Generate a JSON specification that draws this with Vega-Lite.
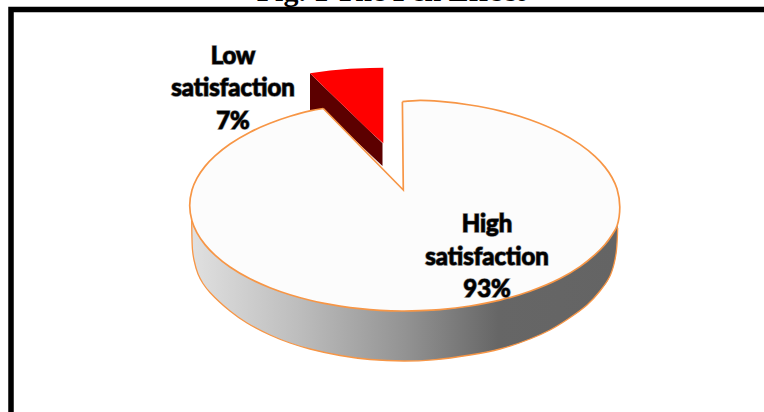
{
  "$schema": "https://vega.github.io/schema/vega-lite/v6.json",
  "width": 764,
  "height": 412,
  "padding": 0,
  "autosize": {"type": "none"},
  "background": "#ffffff",
  "config": {"view": {"stroke": null}},
  "datasets": {
    "frame": [
      {"seq": 1, "x": 11, "y": 420},
      {"seq": 2, "x": 11, "y": 9.5},
      {"seq": 3, "x": 770, "y": 9.5}
    ],
    "wall": [
      {"x": 191.7, "y": 218, "y2": 235},
      {"x": 192.5, "y": 221, "y2": 250},
      {"x": 194, "y": 226, "y2": 260},
      {"x": 198, "y": 234, "y2": 274},
      {"x": 203, "y": 242, "y2": 283.5},
      {"x": 210, "y": 250, "y2": 292.5},
      {"x": 230, "y": 267, "y2": 311},
      {"x": 247, "y": 277, "y2": 323},
      {"x": 270, "y": 287.7, "y2": 335},
      {"x": 290, "y": 294.7, "y2": 343},
      {"x": 310, "y": 300.2, "y2": 349},
      {"x": 340, "y": 306.1, "y2": 355.5},
      {"x": 370, "y": 309.6, "y2": 359.5},
      {"x": 404, "y": 311, "y2": 361},
      {"x": 433, "y": 310.2, "y2": 359.8},
      {"x": 470, "y": 306, "y2": 355},
      {"x": 500, "y": 300.1, "y2": 349},
      {"x": 530, "y": 291.2, "y2": 339},
      {"x": 550, "y": 283, "y2": 330},
      {"x": 568, "y": 274, "y2": 319},
      {"x": 587, "y": 261, "y2": 305},
      {"x": 600, "y": 249, "y2": 291},
      {"x": 610, "y": 238, "y2": 276},
      {"x": 614, "y": 232, "y2": 264},
      {"x": 616.5, "y": 227, "y2": 250},
      {"x": 617.7, "y": 222, "y2": 228}
    ],
    "wallEdge": [
      {"seq": 1, "x": 191.7, "y": 220},
      {"seq": 2, "x": 191.9, "y": 235},
      {"seq": 3, "x": 192.5, "y": 250},
      {"seq": 4, "x": 194, "y": 260},
      {"seq": 5, "x": 198, "y": 274},
      {"seq": 6, "x": 203, "y": 283.5},
      {"seq": 7, "x": 210, "y": 292.5},
      {"seq": 8, "x": 230, "y": 311},
      {"seq": 9, "x": 247, "y": 323},
      {"seq": 10, "x": 270, "y": 335},
      {"seq": 11, "x": 290, "y": 343},
      {"seq": 12, "x": 310, "y": 349},
      {"seq": 13, "x": 340, "y": 355.5},
      {"seq": 14, "x": 370, "y": 359.5},
      {"seq": 15, "x": 404, "y": 361},
      {"seq": 16, "x": 433, "y": 359.8},
      {"seq": 17, "x": 470, "y": 355},
      {"seq": 18, "x": 500, "y": 349},
      {"seq": 19, "x": 530, "y": 339},
      {"seq": 20, "x": 550, "y": 330},
      {"seq": 21, "x": 568, "y": 319},
      {"seq": 22, "x": 587, "y": 305},
      {"seq": 23, "x": 600, "y": 291},
      {"seq": 24, "x": 610, "y": 276},
      {"seq": 25, "x": 614, "y": 264},
      {"seq": 26, "x": 616.5, "y": 250},
      {"seq": 27, "x": 617.7, "y": 228}
    ],
    "sliceSide": [
      {"x": 310, "y": 73.3, "y2": 111},
      {"x": 323, "y": 86, "y2": 110},
      {"x": 382.5, "y": 143.3, "y2": 166}
    ],
    "sliceTop": [
      {"x": 310, "y": 73.3, "y2": 73.3},
      {"x": 330, "y": 70.5, "y2": 92.7},
      {"x": 350, "y": 68.8, "y2": 112},
      {"x": 370, "y": 67.9, "y2": 131.4},
      {"x": 383.3, "y": 67.7, "y2": 143.3}
    ],
    "pieTop": [
      {"x": 189.7, "y": 205.5, "y2": 205.5},
      {"x": 192, "y": 190.1, "y2": 220.9},
      {"x": 197, "y": 178.2, "y2": 232.8},
      {"x": 205, "y": 166.4, "y2": 244.6},
      {"x": 215, "y": 155.9, "y2": 255.1},
      {"x": 230, "y": 144, "y2": 267},
      {"x": 250, "y": 132.2, "y2": 278.8},
      {"x": 270, "y": 123.3, "y2": 287.7},
      {"x": 290, "y": 116.3, "y2": 294.7},
      {"x": 310, "y": 110.8, "y2": 300.2},
      {"x": 323.3, "y": 108.5, "y2": 303.1},
      {"x": 340, "y": 125.6, "y2": 306.1},
      {"x": 360, "y": 146, "y2": 308.7},
      {"x": 380, "y": 166.5, "y2": 310.3},
      {"x": 402.9, "y": 190, "y2": 311},
      {"x": 403, "y": 101.7, "y2": 311},
      {"x": 420, "y": 100.3, "y2": 310.7},
      {"x": 440, "y": 101.4, "y2": 309.6},
      {"x": 470, "y": 105, "y2": 306},
      {"x": 500, "y": 110.9, "y2": 300.1},
      {"x": 530, "y": 119.8, "y2": 291.2},
      {"x": 560, "y": 132.5, "y2": 278.5},
      {"x": 580, "y": 144.4, "y2": 266.6},
      {"x": 595, "y": 156.4, "y2": 254.6},
      {"x": 605, "y": 167.1, "y2": 244.5},
      {"x": 612, "y": 177.5, "y2": 235},
      {"x": 617, "y": 188.8, "y2": 226},
      {"x": 619.8, "y": 207, "y2": 208}
    ],
    "pieArc": [
      {"seq": 1, "x": 402.4, "y": 101.7},
      {"seq": 2, "x": 420, "y": 100.3},
      {"seq": 3, "x": 440, "y": 101.4},
      {"seq": 4, "x": 470, "y": 105},
      {"seq": 5, "x": 500, "y": 110.9},
      {"seq": 6, "x": 530, "y": 119.8},
      {"seq": 7, "x": 560, "y": 132.5},
      {"seq": 8, "x": 580, "y": 144.4},
      {"seq": 9, "x": 595, "y": 156.4},
      {"seq": 10, "x": 605, "y": 167.1},
      {"seq": 11, "x": 612, "y": 177.5},
      {"seq": 12, "x": 617, "y": 188.8},
      {"seq": 13, "x": 619.8, "y": 207},
      {"seq": 14, "x": 617, "y": 226},
      {"seq": 15, "x": 612, "y": 235},
      {"seq": 16, "x": 605, "y": 244.5},
      {"seq": 17, "x": 595, "y": 254.6},
      {"seq": 18, "x": 580, "y": 266.6},
      {"seq": 19, "x": 560, "y": 278.5},
      {"seq": 20, "x": 530, "y": 291.2},
      {"seq": 21, "x": 500, "y": 300.1},
      {"seq": 22, "x": 470, "y": 306},
      {"seq": 23, "x": 440, "y": 309.6},
      {"seq": 24, "x": 420, "y": 310.7},
      {"seq": 25, "x": 402, "y": 311},
      {"seq": 26, "x": 380, "y": 310.3},
      {"seq": 27, "x": 360, "y": 308.7},
      {"seq": 28, "x": 340, "y": 306.1},
      {"seq": 29, "x": 323, "y": 303.1},
      {"seq": 30, "x": 310, "y": 300.2},
      {"seq": 31, "x": 290, "y": 294.7},
      {"seq": 32, "x": 270, "y": 287.7},
      {"seq": 33, "x": 250, "y": 278.8},
      {"seq": 34, "x": 230, "y": 267},
      {"seq": 35, "x": 215, "y": 255.1},
      {"seq": 36, "x": 205, "y": 244.6},
      {"seq": 37, "x": 197, "y": 232.8},
      {"seq": 38, "x": 192, "y": 220.9},
      {"seq": 39, "x": 189.7, "y": 205.5},
      {"seq": 40, "x": 192, "y": 190.1},
      {"seq": 41, "x": 197, "y": 178.2},
      {"seq": 42, "x": 205, "y": 166.4},
      {"seq": 43, "x": 215, "y": 155.9},
      {"seq": 44, "x": 230, "y": 144},
      {"seq": 45, "x": 250, "y": 132.2},
      {"seq": 46, "x": 270, "y": 123.3},
      {"seq": 47, "x": 290, "y": 116.3},
      {"seq": 48, "x": 310, "y": 110.8},
      {"seq": 49, "x": 323.3, "y": 108.5}
    ],
    "pieNotch": [
      {"seq": 1, "x": 323.3, "y": 108.5},
      {"seq": 2, "x": 403.3, "y": 190},
      {"seq": 3, "x": 402.4, "y": 101.7}
    ],
    "labels": [
      {"label": "Low\nsatisfaction\n7%", "x": 233, "y": 56.5},
      {"label": "High\nsatisfaction\n93%", "x": 487, "y": 225}
    ],
    "heading": [
      {"label": "Fig. 1 The Pen Effect", "x": 391, "y": 0.8}
    ]
  },
  "encoding": {
    "x": {"field": "x", "type": "quantitative", "axis": null, "scale": {"domain": [0, 764], "nice": false, "zero": false}},
    "y": {"field": "y", "type": "quantitative", "axis": null, "scale": {"domain": [412, 0], "nice": false, "zero": false}}
  },
  "layer": [
    {
      "data": {"name": "heading"},
      "mark": {"type": "text", "font": "Liberation Serif", "fontWeight": "bold", "fontSize": 30, "align": "center", "baseline": "alphabetic", "color": "#000000"},
      "encoding": {"text": {"field": "label"}}
    },
    {
      "data": {"name": "frame"},
      "mark": {"type": "line", "stroke": "#000000", "strokeWidth": 5.5, "strokeJoin": "miter", "clip": true},
      "encoding": {"order": {"field": "seq"}}
    },
    {
      "data": {"name": "wall"},
      "mark": {
        "type": "area",
        "interpolate": "monotone",
        "color": {
          "gradient": "linear", "x1": 0, "y1": 0, "x2": 1, "y2": 0,
          "stops": [
            {"offset": 0, "color": "#e0e0e0"},
            {"offset": 0.25, "color": "#bdbdbd"},
            {"offset": 0.5, "color": "#939393"},
            {"offset": 0.72, "color": "#666666"},
            {"offset": 1, "color": "#646464"}
          ]
        }
      },
      "encoding": {"y2": {"field": "y2"}}
    },
    {
      "data": {"name": "wallEdge"},
      "mark": {"type": "line", "stroke": "#F79646", "strokeWidth": 1.3, "interpolate": "catmull-rom"},
      "encoding": {"order": {"field": "seq"}}
    },
    {
      "data": {"name": "sliceSide"},
      "mark": {"type": "area", "color": "#5c0000"},
      "encoding": {"y2": {"field": "y2"}}
    },
    {
      "data": {"name": "sliceTop"},
      "mark": {"type": "area", "color": "#ff0000"},
      "encoding": {"y2": {"field": "y2"}}
    },
    {
      "data": {"name": "pieTop"},
      "mark": {"type": "area", "color": "#fcfcfc"},
      "encoding": {"y2": {"field": "y2"}}
    },
    {
      "data": {"name": "pieArc"},
      "mark": {"type": "line", "stroke": "#F79646", "strokeWidth": 1.7, "interpolate": "catmull-rom"},
      "encoding": {"order": {"field": "seq"}}
    },
    {
      "data": {"name": "pieNotch"},
      "mark": {"type": "line", "stroke": "#F79646", "strokeWidth": 1.7},
      "encoding": {"order": {"field": "seq"}}
    },
    {
      "data": {"name": "labels"},
      "mark": {"type": "text", "font": "Lato", "fontWeight": "bold", "fontSize": 24, "lineHeight": 32.5, "lineBreak": "\n", "align": "center", "baseline": "middle", "color": "#000000", "stroke": "#000000", "strokeWidth": 2, "opacity": 0.3},
      "encoding": {"text": {"field": "label"}}
    },
    {
      "data": {"name": "labels"},
      "mark": {"type": "text", "font": "Lato", "fontWeight": "bold", "fontSize": 24, "lineHeight": 32.5, "lineBreak": "\n", "align": "center", "baseline": "middle", "color": "#000000", "stroke": "#000000", "strokeWidth": 0.7},
      "encoding": {"text": {"field": "label"}}
    }
  ]
}
